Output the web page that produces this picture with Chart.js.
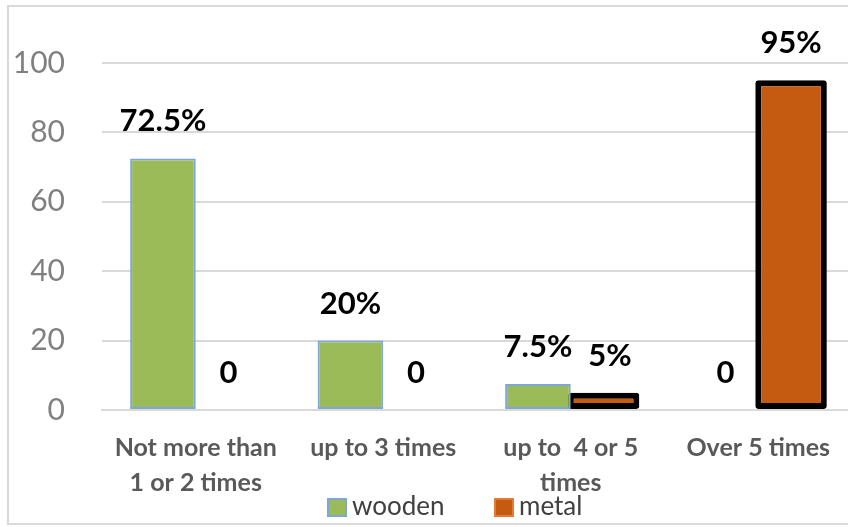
<!DOCTYPE html>
<html>
<head>
<meta charset="utf-8">
<script src="https://cdn.jsdelivr.net/npm/chart.js@4.4.1/dist/chart.umd.min.js"></script>
<style>
  html, body { margin: 0; padding: 0; background: #fff; overflow: hidden; }
  /* plot area runs a little past the right edge, like the cropped original */
  #wrap { width: 852px; height: 527px; }
</style>
</head>
<body>
<div id="wrap"><canvas id="myChart"></canvas></div>
<script>
// data
const categories = [
  ["Not more than", "1 or 2 times"],
  "up to 3 times",
  ["up to  4 or 5", "times"],
  "Over 5 times",
];
const seriesNames = ["wooden", "metal"];
const woodenValues = [72.5, 20, 7.5, 0];
const metalValues = [0, 0, 5, 95];
const yTicks = [0, 20, 40, 60, 80, 100];

const FONT = "Lato";
const green = "#9bbb59";
const orange = "#c55a11";

// value labels over each bar (pushed right if they'd run into the neighbour)
const barLabels = {
  id: "barLabels",
  afterDatasetsDraw(chart) {
    const ctx = chart.ctx;
    ctx.save();
    ctx.font = "bold 31px " + FONT;
    ctx.fillStyle = "#000";
    ctx.textAlign = "center";
    ctx.textBaseline = "middle";
    const lastRight = {};
    chart.data.datasets.forEach((ds, i) => {
      const meta = chart.getDatasetMeta(i);
      meta.data.forEach((bar, j) => {
        const v = ds.data[j];
        const txt = v === 0 ? "0" : v + "%";
        const w = ctx.measureText(txt).width;
        const y = bar.y - 37;
        let x = bar.x;
        const prev = lastRight[j];
        if (prev && Math.abs(prev.y - y) < 30 && x - w / 2 < prev.r + 16) {
          x = prev.r + 16 + w / 2;
        }
        ctx.fillText(txt, x, y);
        lastRight[j] = { r: x + w / 2, y: y };
      });
    });
    ctx.restore();
  },
};

// frame + legend drawn by hand so it sits where the original had it
const frameAndLegend = {
  id: "frameAndLegend",
  beforeDraw(chart) {
    const ctx = chart.ctx;
    ctx.save();
    ctx.fillStyle = "#fff";
    ctx.fillRect(0, 0, chart.width, chart.height);
    ctx.strokeStyle = "#d9d9d9";
    ctx.lineWidth = 2;
    ctx.beginPath();
    ctx.moveTo(chart.width + 2, 6);
    ctx.lineTo(8, 6);
    ctx.lineTo(8, 524);
    ctx.lineTo(chart.width + 2, 524);
    ctx.stroke();
    ctx.restore();
  },
  afterDraw(chart) {
    const ctx = chart.ctx;
    const items = [
      { x: 327, ds: chart.data.datasets[0], stroke: "#7ea6d6" },
      { x: 494, ds: chart.data.datasets[1], stroke: "#e07b39" },
    ];
    ctx.save();
    ctx.font = "26px " + FONT;
    ctx.textBaseline = "middle";
    ctx.textAlign = "left";
    items.forEach((it) => {
      ctx.fillStyle = it.ds.backgroundColor;
      ctx.fillRect(it.x, 498, 20, 19);
      ctx.strokeStyle = it.stroke;
      ctx.lineWidth = 2;
      ctx.strokeRect(it.x + 1, 499, 18, 17);
      ctx.fillStyle = "#404040";
      ctx.fillText(it.ds.label, it.x + 25, 507);
    });
    ctx.restore();
  },
};

const ctx = document.getElementById("myChart").getContext("2d");

new Chart(ctx, {
  type: "bar",
  data: {
    labels: categories,
    datasets: [
      {
        label: seriesNames[0],
        data: woodenValues,
        backgroundColor: green,
        borderColor: "#7ea6d6",
        borderWidth: 2,
        borderSkipped: false,
        barPercentage: 1,
      },
      {
        label: seriesNames[1],
        data: metalValues,
        backgroundColor: orange,
        borderColor: "#000",
        borderWidth: 6,
        borderSkipped: false,
        borderRadius: 3,
        barPercentage: 1.09,
      },
    ],
  },
  options: {
    responsive: true,
    maintainAspectRatio: false,
    animation: false,
    layout: { padding: { top: 63, left: 0, right: 0, bottom: 0 } },
    plugins: {
      legend: { display: false },
      tooltip: { enabled: false },
    },
    datasets: { bar: { categoryPercentage: 0.7 } },
    scales: {
      x: {
        grid: { display: false, drawTicks: false },
        border: { display: true, color: "#d9d9d9", width: 2 },
        ticks: {
          color: "#595959",
          font: { family: FONT, size: 25, weight: "bold", lineHeight: "35px" },
          padding: 20,
          maxRotation: 0,
          autoSkip: false,
        },
        afterFit(scale) {
          scale.height = 117;
        },
      },
      y: {
        min: 0,
        max: 100,
        grid: { color: "#d9d9d9", lineWidth: 2, drawTicks: false },
        border: { display: false },
        afterBuildTicks(scale) {
          scale.ticks = yTicks.map((v) => ({ value: v }));
        },
        ticks: {
          color: "#808080",
          font: { family: FONT, size: 30 },
          padding: 37,
        },
        afterFit(scale) {
          scale.width = 102;
        },
      },
    },
  },
  plugins: [frameAndLegend, barLabels],
});
</script>
</body>
</html>
